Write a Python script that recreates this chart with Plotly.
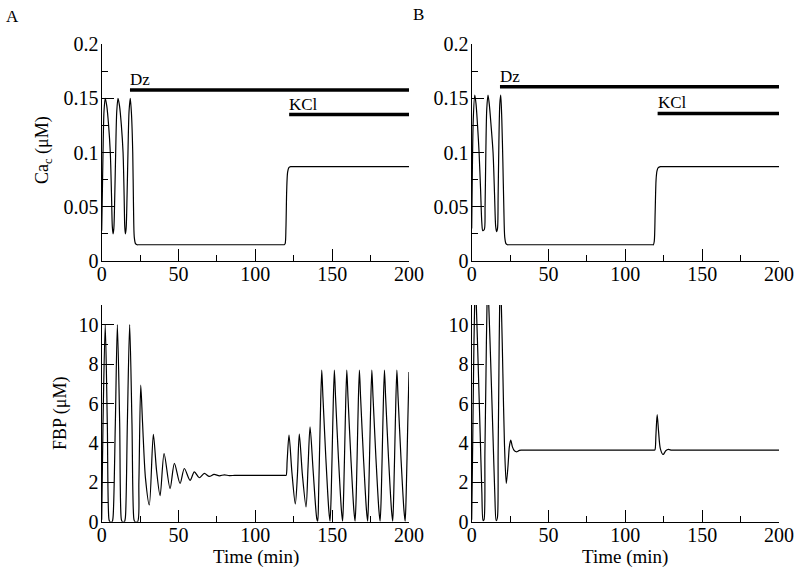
import plotly.graph_objects as go

# ---------------- data ----------------
# Panel A, top: cytosolic Ca (uM) vs time (min)
ca_a_t = [0, 0.4, 0.85, 1.5, 2.3, 3.3, 4.5, 5.6, 6.4, 6.9, 7.4, 7.9, 8.5, 9.1, 9.8, 10.6,
          11.6, 12.8, 13.9, 14.6, 15.0, 15.4, 15.9, 16.5, 17.1, 17.8, 18.6, 19.4, 20.2,
          20.7, 21.2, 22.0, 23.0, 24.0, 118.2, 118.8, 119.4, 119.9, 120.4, 121.0, 121.8,
          123.0, 124.0, 200]
ca_a_v = [0.028, 0.06, 0.1, 0.138, 0.150, 0.143, 0.125, 0.1, 0.06, 0.032, 0.025, 0.03, 0.06,
          0.1, 0.138, 0.150, 0.143, 0.125, 0.1, 0.06, 0.032, 0.025, 0.03, 0.06, 0.1, 0.138,
          0.150, 0.135, 0.1, 0.05, 0.022, 0.016, 0.015, 0.015, 0.015, 0.015, 0.016, 0.03,
          0.065, 0.082, 0.086, 0.087, 0.087, 0.087]

# Panel B, top
ca_b_t = [0, 0.4, 1.0, 2.0, 2.8, 3.8, 4.8, 5.8, 6.6, 7.2, 8.2, 8.7, 9.2, 9.8, 10.6, 11.4,
          12.6, 13.9, 14.9, 15.6, 16.2, 16.8, 17.2, 17.7, 18.3, 18.9, 19.6, 20.3, 20.9,
          21.5, 22.3, 23.3, 24.3, 117.6, 118.2, 118.8, 119.4, 120.0, 120.6, 121.4, 122.8,
          123.8, 200]
ca_b_v = [0.03, 0.08, 0.13, 0.153, 0.145, 0.125, 0.1, 0.065, 0.035, 0.028, 0.029, 0.05,
          0.1, 0.14, 0.153, 0.145, 0.125, 0.1, 0.06, 0.032, 0.027, 0.03, 0.06, 0.11, 0.145,
          0.153, 0.13, 0.09, 0.05, 0.022, 0.016, 0.015, 0.015, 0.015, 0.015, 0.018, 0.045,
          0.075, 0.083, 0.086, 0.087, 0.087, 0.087]

# Panel A, bottom: FBP (uM)
fbp_a_t = [0, 0.85, 2.3, 3.65, 4.75, 5.3, 6.8, 7.36, 8.88, 10.2, 11.7, 12.8, 13.4, 14.8,
           15.4, 16.7, 18.2, 19.7, 21.0, 21.6, 23.4, 24.2, 25.4, 26.6, 28.5, 31.0,
           33.6, 35.7, 38.0, 40.6, 44.5, 47.3, 51.0, 53.8, 57.5, 60.3, 63.5, 66.8, 70.0,
           73.1, 76.6, 79.8, 83.0, 86.5, 90.0, 119.2, 120.0, 120.7, 121.9, 123.8, 126.0,
           127.4, 128.6, 130.6, 133.0, 134.3, 135.6, 137.6, 140.0, 140.6,
           141.2, 142.2, 143.2, 144.0, 145.9, 147.8, 148.6,
           149.4, 150.4, 151.4, 152.2, 154.1, 156.0, 156.8,
           157.5, 158.5, 159.5, 160.3, 162.2, 164.1, 164.9,
           165.7, 166.7, 167.7, 168.5, 170.4, 172.3, 173.1,
           173.8, 174.8, 175.8, 176.6, 178.5, 180.4, 181.2,
           182.0, 183.0, 184.0, 184.8, 186.7, 188.6, 189.4,
           190.1, 191.1, 192.1, 192.9, 194.8, 196.7, 197.5,
           198.2, 199.2, 200.0]
fbp_a_v = [0.1, 5.0, 10.0, 5.0, 0.1, 0.0, 0.0, 0.2, 5.0, 10.0, 5.0, 0.1, 0.0, 0.0,
           0.2, 5.0, 10.0, 5.0, 0.1, 0.0, 0.0, 2.0, 6.93, 5.0, 2.2, 0.85,
           4.44, 2.6, 1.32, 3.46, 1.68, 2.96, 1.94, 2.70, 2.10, 2.53, 2.23, 2.45, 2.30,
           2.40, 2.33, 2.38, 2.34, 2.35, 2.35, 2.35, 2.35, 3.1, 4.4, 2.5, 0.9,
           2.4, 4.45, 2.4, 0.75, 2.8, 4.81, 2.6, 0.15, 0.02,
           1.5, 5.0, 7.69, 6.3, 3.2, 0.6, 0.02,
           1.5, 5.0, 7.69, 6.3, 3.2, 0.6, 0.02,
           1.5, 5.0, 7.69, 6.3, 3.2, 0.6, 0.02,
           1.5, 5.0, 7.69, 6.3, 3.2, 0.6, 0.02,
           1.5, 5.0, 7.69, 6.3, 3.2, 0.6, 0.02,
           1.5, 5.0, 7.69, 6.3, 3.2, 0.6, 0.02,
           1.5, 5.0, 7.69, 6.3, 3.2, 0.6, 0.02,
           1.5, 5.0, 7.6]

# Panel B, bottom
fbp_b_t = [0, 0.5, 1.2, 1.9, 2.5, 3.0, 4.2, 5.5, 6.6, 7.4, 8.0, 8.6, 9.3, 9.96, 10.5,
           11.1, 12.4, 13.8, 15.0, 15.9, 16.7, 17.2, 17.7, 18.2, 18.7, 19.3, 20.3, 21.3,
           22.5, 23.6, 24.5, 25.4, 26.5, 27.8, 29.5, 31.0, 32.5, 34.0, 118.2, 118.8,
           119.3, 119.9, 120.7, 121.6, 122.8, 124.6, 126.3, 128.0, 130.0, 131.5, 200]
fbp_b_v = [0.1, 3.0, 7.5, 11.0, 12.0, 11.0, 8.0, 4.5, 1.5, 0.05, 0.1, 3.5, 7.5, 11.0,
           12.0, 11.0, 8.0, 4.5, 1.5, 0.05, 0.2, 3.5, 7.5, 11.0, 12.0, 11.0, 7.5, 4.0,
           1.94, 2.8, 3.8, 4.14, 3.8, 3.6, 3.55, 3.62, 3.63, 3.63, 3.63, 3.63, 3.65,
           4.4, 5.44, 4.6, 3.7, 3.41, 3.6, 3.67, 3.63, 3.63, 3.63]

# Treatment bars: start time, end time, level (in Ca units) for each panel
bar_labels = ["Dz", "KCl"]
bar_a_start = [18.4, 122.0]
bar_a_level = [0.1575, 0.135]
bar_b_start = [18.4, 121.0]
bar_b_level = [0.1605, 0.136]
bar_end = 200

# Axis ticks
x_ticks = [0, 50, 100, 150, 200]
x_minor = [25, 75, 125, 175]
ca_ticks = [0, 0.05, 0.1, 0.15, 0.2]
ca_ticktext = ["0", "0.05", "0.1", "0.15", "0.2"]
ca_minor = [0.025, 0.075, 0.125, 0.175]
fbp_ticks = [0, 2, 4, 6, 8, 10]
fbp_minor = [1, 3, 5, 7, 9, 11]

# ---------------- figure ----------------
W, H = 800, 572
FONT = "Liberation Serif"
line = dict(color="black", width=1.2, shape="spline", smoothing=0.8)

fig = go.Figure()
fig.add_trace(go.Scatter(x=ca_a_t, y=ca_a_v, mode="lines", line=line, xaxis="x", yaxis="y"))
fig.add_trace(go.Scatter(x=ca_b_t, y=ca_b_v, mode="lines", line=line, xaxis="x2", yaxis="y2"))
fig.add_trace(go.Scatter(x=fbp_a_t, y=fbp_a_v, mode="lines", line=line, xaxis="x3", yaxis="y3"))
fig.add_trace(go.Scatter(x=fbp_b_t, y=fbp_b_v, mode="lines", line=line, xaxis="x4", yaxis="y4"))

annotations = []
for starts, levels, xa, ya in [(bar_a_start, bar_a_level, "x", "y"),
                               (bar_b_start, bar_b_level, "x2", "y2")]:
    for lab, s, lv in zip(bar_labels, starts, levels):
        fig.add_trace(go.Scatter(x=[s, bar_end], y=[lv, lv], mode="lines",
                                 line=dict(color="black", width=3.5),
                                 xaxis=xa, yaxis=ya))
        annotations.append(dict(x=s, y=lv, xref=xa, yref=ya, text=lab, showarrow=False,
                                xanchor="left", yanchor="bottom", yshift=-1, xshift=-2,
                                font=dict(family=FONT, size=17, color="black")))

def px_x(p):
    return p / W

def px_y(p):
    return 1 - p / H

dom_xa = [px_x(101.7), px_x(409)]
dom_xb = [px_x(471.7), px_x(779)]
dom_top = [px_y(261), px_y(44)]
dom_bot = [px_y(521.7), px_y(305)]

tickfont = dict(family=FONT, size=20, color="black")

def xaxis(domain, anchor):
    return dict(domain=domain, anchor=anchor, range=[0, 200], showline=True,
                automargin=False, ticklabelstandoff=-5,
                linecolor="black", linewidth=1.3, ticks="inside", ticklen=12,
                tickwidth=1.2, tickcolor="black", tickvals=x_ticks,
                ticktext=[str(v) for v in x_ticks], showgrid=False, zeroline=False,
                tickfont=tickfont,
                minor=dict(tickvals=x_minor, ticks="inside", ticklen=6, tickwidth=1.2,
                           tickcolor="black", showgrid=False))

def yaxis(domain, anchor, rng, vals, text, minor):
    return dict(domain=domain, anchor=anchor, range=rng, showline=True,
                automargin=False, ticklabelstandoff=-2,
                linecolor="black", linewidth=1.3, ticks="inside", ticklen=12,
                tickwidth=1.2, tickcolor="black", tickvals=vals, ticktext=text,
                showgrid=False, zeroline=False, tickfont=tickfont,
                minor=dict(tickvals=minor, ticks="inside", ticklen=6, tickwidth=1.2,
                           tickcolor="black", showgrid=False))

fig.update_layout(
    width=W, height=H, margin=dict(l=0, r=0, t=0, b=0, pad=0, autoexpand=False),
    paper_bgcolor="white", plot_bgcolor="white", showlegend=False,
    xaxis=xaxis(dom_xa, "y"), yaxis=yaxis(dom_top, "x", [0, 0.2], ca_ticks, ca_ticktext, ca_minor),
    xaxis2=xaxis(dom_xb, "y2"), yaxis2=yaxis(dom_top, "x2", [0, 0.2], ca_ticks, ca_ticktext, ca_minor),
    xaxis3=xaxis(dom_xa, "y3"), yaxis3=yaxis(dom_bot, "x3", [0, 11], fbp_ticks, [str(v) for v in fbp_ticks], fbp_minor),
    xaxis4=xaxis(dom_xb, "y4"), yaxis4=yaxis(dom_bot, "x4", [0, 11], fbp_ticks, [str(v) for v in fbp_ticks], fbp_minor),
)

vtitle_font = dict(family=FONT, size=18, color="black")
htitle_font = dict(family=FONT, size=19, color="black")
annotations += [
    dict(x=px_x(12.5), y=px_y(16), xref="paper", yref="paper", text="A", showarrow=False,
         xanchor="center", yanchor="middle", font=dict(family=FONT, size=17, color="black")),
    dict(x=px_x(418), y=px_y(14), xref="paper", yref="paper", text="B", showarrow=False,
         xanchor="center", yanchor="middle", font=dict(family=FONT, size=17, color="black")),
    dict(x=px_x(43), y=px_y(150), xref="paper", yref="paper", text="Ca<sub>c</sub> (μM)",
         xanchor="center", yanchor="middle",
         textangle=-90, showarrow=False, font=vtitle_font),
    dict(x=px_x(61), y=px_y(413), xref="paper", yref="paper", text="FBP (μM)",
         xanchor="center", yanchor="middle",
         textangle=-90, showarrow=False, font=vtitle_font),
    dict(x=px_x(256), y=px_y(557), xref="paper", yref="paper", text="Time (min)",
         xanchor="center", yanchor="middle", showarrow=False, font=htitle_font),
    dict(x=px_x(625), y=px_y(557), xref="paper", yref="paper", text="Time (min)",
         xanchor="center", yanchor="middle", showarrow=False, font=htitle_font),
]
fig.update_layout(annotations=annotations)

fig.write_html("out.html", config={"displayModeBar": False},
               post_script="document.body.style.margin='0px';document.body.style.overflow='hidden';")
